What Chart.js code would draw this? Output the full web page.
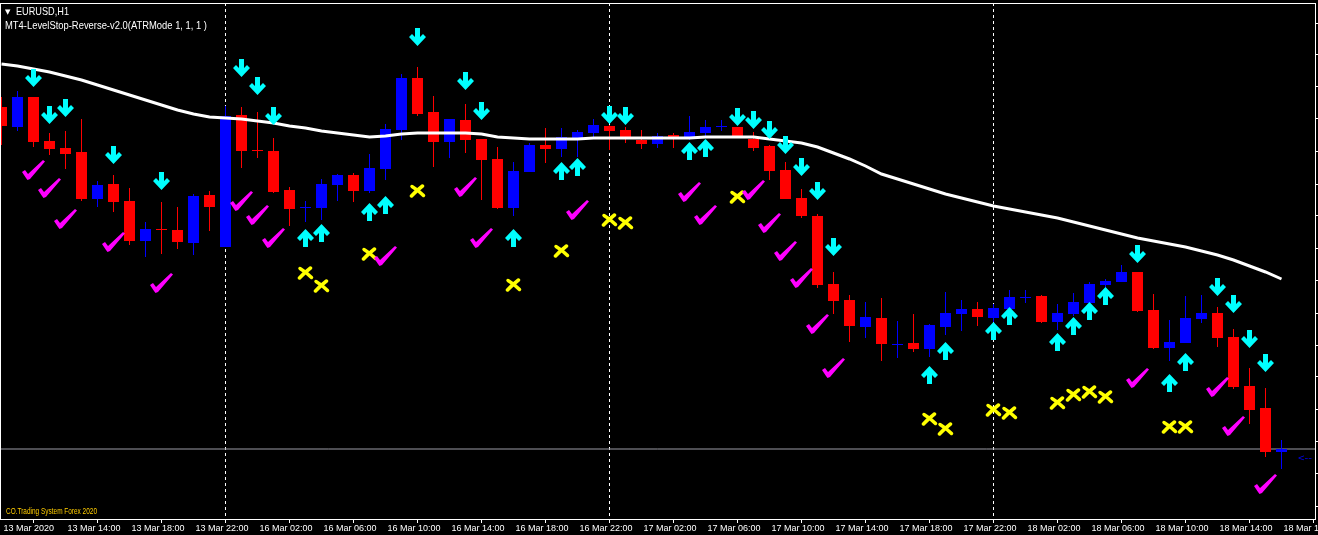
<!DOCTYPE html>
<html><head><meta charset="utf-8">
<script src="https://cdn.jsdelivr.net/npm/chart.js@4.4.1/dist/chart.umd.min.js"></script>
<style>html,body{margin:0;padding:0;background:#000;overflow:hidden}canvas{display:block}</style>
</head><body>
<canvas id="c" width="1318" height="535" style="width:1318px;height:535px"></canvas>
<script>
// ---- data (EURUSD H1, bar index 0 = 13 Mar 2020 10:00) ----
const opens = [1.1293,1.1273,1.1303,1.1259,1.1252,1.1248,1.1201,1.1216,1.1199,1.1159,
1.1171,1.1170,1.1157,1.1205,1.1153,1.1285,1.1250,1.1249,1.1210,1.1192,
1.1192,1.1215,1.1225,1.1209,1.1231,1.1270,1.1322,1.1288,1.1258,1.1280,
1.1261,1.1241,1.1192,1.1228,1.1255,1.1251,1.1262,1.1267,1.1274,1.1270,
1.1260,1.1256,1.1265,1.1263,1.1267,1.1273,1.1273,1.1261,1.1254,1.1230,
1.1202,1.1184,1.1116,1.1100,1.1073,1.1082,1.1055,1.1057,1.1051,1.1073,
1.1086,1.1091,1.1082,1.1091,1.1102,1.1104,1.1078,1.1086,1.1097,1.1115,
1.1118,1.1128,1.1090,1.1052,1.1057,1.1081,1.1087,1.1063,1.1014,1.0992,1.0948];
const highs = [1.1303,1.1309,1.1303,1.1267,1.1269,1.1281,1.1219,1.1225,1.1212,1.1178,
1.1198,1.1193,1.1206,1.1209,1.1294,1.1293,1.1288,1.1262,1.1213,1.1199,
1.1221,1.1226,1.1227,1.1246,1.1276,1.1326,1.1333,1.1304,1.1281,1.1296,
1.1261,1.1253,1.1238,1.1257,1.1272,1.1272,1.1270,1.1281,1.1275,1.1273,
1.1270,1.1267,1.1267,1.1284,1.1280,1.1280,1.1273,1.1268,1.1255,1.1238,
1.1211,1.1186,1.1128,1.1105,1.1098,1.1102,1.1079,1.1086,1.1076,1.1108,
1.1100,1.1098,1.1096,1.1110,1.1110,1.1105,1.1096,1.1107,1.1118,1.1121,
1.1135,1.1128,1.1106,1.1080,1.1104,1.1105,1.1093,1.1071,1.1032,1.1012,1.0960];
const lows = [1.1255,1.1269,1.1253,1.1245,1.1231,1.1199,1.1193,1.1188,1.1155,1.1143,
1.1146,1.1151,1.1145,1.1169,1.1153,1.1232,1.1242,1.1207,1.1174,1.1178,
1.1180,1.1199,1.1198,1.1207,1.1220,1.1260,1.1284,1.1233,1.1242,1.1247,
1.1200,1.1191,1.1184,1.1228,1.1237,1.1243,1.1243,1.1263,1.1250,1.1257,
1.1251,1.1252,1.1252,1.1260,1.1263,1.1269,1.1264,1.1249,1.1220,1.1201,
1.1182,1.1112,1.1086,1.1058,1.1062,1.1039,1.1042,1.1048,1.1043,1.1065,
1.1069,1.1074,1.1078,1.1088,1.1097,1.1077,1.1070,1.1084,1.1095,1.1110,
1.1118,1.1088,1.1051,1.1039,1.1057,1.1077,1.1053,1.1011,1.0976,1.0943,1.0931];
const closes = [1.1274,1.1303,1.1258,1.1251,1.1246,1.1201,1.1215,1.1198,1.1159,1.1171,
1.1170,1.1158,1.1204,1.1193,1.1284,1.1249,1.1249,1.1208,1.1191,1.1193,
1.1216,1.1225,1.1209,1.1232,1.1271,1.1322,1.1286,1.1258,1.1281,1.1260,
1.1240,1.1192,1.1229,1.1255,1.1251,1.1263,1.1268,1.1275,1.1269,1.1263,
1.1256,1.1264,1.1263,1.1268,1.1273,1.1274,1.1264,1.1252,1.1229,1.1201,
1.1184,1.1115,1.1099,1.1074,1.1083,1.1056,1.1056,1.1051,1.1075,1.1087,
1.1091,1.1083,1.1092,1.1103,1.1103,1.1078,1.1087,1.1098,1.1116,1.1119,
1.1128,1.1089,1.1052,1.1058,1.1082,1.1087,1.1062,1.1013,1.0990,1.0948,1.0951];
const maLine = [1.1336,1.1334,1.1331,1.1328,1.1324,1.1320,1.1315,1.1310,1.1305,1.1300,
1.1295,1.1290,1.1286,1.1283,1.1282,1.1281,1.1279,1.1277,1.1274,1.1272,
1.1269,1.1267,1.1265,1.1263,1.1264,1.1266,1.1267,1.1267,1.1267,1.1267,
1.1266,1.1263,1.1262,1.1261,1.1261,1.1261,1.1261,1.1262,1.1262,1.1262,
1.1262,1.1262,1.1262,1.1262,1.1263,1.1263,1.1263,1.1263,1.1261,1.1259,
1.1257,1.1253,1.1247,1.1241,1.1234,1.1226,1.1221,1.1216,1.1211,1.1206,
1.1202,1.1198,1.1194,1.1191,1.1188,1.1185,1.1182,1.1178,1.1174,1.1170,
1.1166,1.1162,1.1159,1.1156,1.1153,1.1149,1.1145,1.1140,1.1134,1.1128,1.1121];

const downIdx = [2,3,4,7,10,15,16,17,26,29,30,38,39,46,47,48,49,50,51,52,71,76,77,78,79];
const downPx  = [1.1322,1.1285,1.1292,1.1245,1.1219,1.1332,1.1314,1.1284,1.1363,1.1319,1.1289,1.1285,1.1284,1.1283,1.1280,1.1270,1.1255,1.1233,1.1209,1.1153,1.1146,1.1113,1.1096,1.1061,1.1037];
const upIdx = [19,20,23,24,32,35,36,43,44,58,59,62,63,66,67,68,69,73,74];
const upPx  = [1.1162,1.1167,1.1188,1.1195,1.1162,1.1229,1.1233,1.1249,1.1252,1.1025,1.1049,1.1069,1.1084,1.1058,1.1074,1.1089,1.1104,1.1017,1.1038];
const checkIdx = [2,3,4,7,10,15,16,17,24,29,30,36,43,44,47,48,49,50,51,52,71,76,77,79];
const checkPx  = [1.1230,1.1212,1.1181,1.1158,1.1117,1.1199,1.1185,1.1162,1.1144,1.1213,1.1162,1.1190,1.1208,1.1185,1.1210,1.1177,1.1149,1.1122,1.1076,1.1032,1.1022,1.1013,1.0974,1.0916];
const crossIdx = [19,20,23,26,32,35,38,39,46,58,59,62,63,66,67,68,69,73,74];
const crossPx  = [1.1127,1.1114,1.1146,1.1209,1.1115,1.1149,1.1180,1.1177,1.1203,1.0981,1.0971,1.0990,1.0987,1.0997,1.1005,1.1008,1.1003,1.0973,1.0973];

const bidPrice = 1.0951;
const daySeparators = [14, 38, 62];
const xTickIdx = [0,4,8,12,16,20,24,28,32,36,40,44,48,52,56,60,64,68,72,76,80];
const xTickLabels = ["13 Mar 2020","13 Mar 14:00","13 Mar 18:00","13 Mar 22:00","16 Mar 02:00","16 Mar 06:00","16 Mar 10:00","16 Mar 14:00","16 Mar 18:00","16 Mar 22:00","17 Mar 02:00","17 Mar 06:00","17 Mar 10:00","17 Mar 14:00","17 Mar 18:00","17 Mar 22:00","18 Mar 02:00","18 Mar 06:00","18 Mar 10:00","18 Mar 14:00","18 Mar 18:00"];
const yTickValues = [1.1377,1.1345,1.1313,1.1281,1.1248,1.1216,1.1184,1.1152,1.1119,1.1087,1.1055,1.1023,1.0991,1.0958,1.0927,1.0894];

// ---- view ----
const X_MIN = -0.09375, X_MAX = 82.09375;
const Y_MIN = 1.0881, Y_MAX = 1.1397;
const FONT = '"Liberation Sans", Arial, sans-serif';
const RED = '#ff0000', BLUE = '#0000ff';

function makeImg(w, h, draw) {
  const c = document.createElement('canvas'); c.width = w; c.height = h;
  draw(c.getContext('2d')); return c;
}
function poly(g, pts) { g.beginPath(); pts.forEach((p,i)=> i? g.lineTo(p[0],p[1]) : g.moveTo(p[0],p[1])); g.closePath(); g.fill(); }
const arrowDown = makeImg(17, 18, g => { g.fillStyle = '#00ffff';
  poly(g, [[6,0],[11,0],[11,9],[14,6],[17,9],[8.5,18],[0,9],[3,6],[6,9]]); });
const arrowUp = makeImg(17, 18, g => { g.fillStyle = '#00ffff';
  poly(g, [[6,18],[11,18],[11,9],[14,12],[17,9],[8.5,0],[0,9],[3,12],[6,9]]); });
const checkImg = makeImg(23, 20, g => { g.fillStyle = '#ff00ff';
  poly(g, [[0,12],[3,10],[6,14],[21,0],[23,1.5],[8,19],[5.5,20],[4,18]]); });
const crossImg = makeImg(17, 14, g => {
  g.strokeStyle = '#ffff00'; g.lineWidth = 3.5; g.lineCap = 'round';
  g.beginPath(); g.moveTo(3,2.5); g.quadraticCurveTo(9,6,14.5,11.5); g.stroke();
  g.beginPath(); g.moveTo(13.5,2); g.quadraticCurveTo(7,7,2.5,12); g.stroke();
});

const candleColors = opens.map((o,i)=> closes[i] >= o ? BLUE : RED);
const pts = (idx, px) => idx.map((x,i)=>({x, y: px[i]}));

const datasets = [
  { type:'line', label:'bid', data:[{x:X_MIN,y:bidPrice},{x:X_MAX,y:bidPrice}], borderColor:'#9c9ca6', borderWidth:1, pointRadius:0, order:8 },
  ...daySeparators.map(s => ({ type:'line', label:'sep', data:[{x:s,y:Y_MAX},{x:s,y:Y_MIN}], borderColor:'#ffffff', borderWidth:1, borderDash:[3,3], pointRadius:0, order:9 })),
  { type:'bar', label:'wick', data: highs.map((h,i)=>({x:i, y:[lows[i], h]})), backgroundColor:candleColors, barThickness:1, grouped:false, inflateAmount:0, borderWidth:0, order:6 },
  { type:'bar', label:'body', data: opens.map((o,i)=>({x:i, y:[o, closes[i]]})), backgroundColor:candleColors, barThickness:11, grouped:false, inflateAmount:0, borderWidth:0, minBarLength:1, order:5 },
  { type:'line', label:'MA', data: maLine.map((v,i)=>({x:i,y:v})), borderColor:'#ffffff', borderWidth:3, pointRadius:0, tension:0, order:4 },
  { type:'line', label:'down', data: pts(downIdx, downPx), showLine:false, pointStyle:arrowDown, order:1 },
  { type:'line', label:'up', data: pts(upIdx, upPx), showLine:false, pointStyle:arrowUp, order:1 },
  { type:'line', label:'check', data: pts(checkIdx, checkPx), showLine:false, pointStyle:checkImg, order:2 },
  { type:'line', label:'cross', data: pts(crossIdx, crossPx), showLine:false, pointStyle:crossImg, order:2 },
];

function fitText(c, txt, x, y, w) {
  const m = c.measureText(txt).width;
  c.save(); c.translate(x, y); c.scale(w / m, 1); c.fillText(txt, 0, 0); c.restore();
}

const overlay = {
  id:'overlay',
  beforeDraw(chart){
    const c = chart.ctx; c.save(); c.fillStyle = '#000'; c.fillRect(0,0,chart.width,chart.height); c.restore();
  },
  afterDraw(chart){
    const c = chart.ctx, a = chart.chartArea;
    c.save();
    c.strokeStyle = '#ffffff'; c.lineWidth = 1;
    c.strokeRect(a.left + 0.5, a.top + 0.5, a.right - a.left, a.bottom - a.top);
    c.fillStyle = '#ffffff'; c.textBaseline = 'alphabetic';
    c.font = '7px "DejaVu Sans"'; c.fillText('\u25BC', 5, 14);
    c.font = '11px ' + FONT;
    fitText(c, 'EURUSD,H1', 16, 15, 53);
    fitText(c, 'MT4-LevelStop-Reverse-v2.0(ATRMode 1, 1, 1 )', 5, 29, 202);
    c.fillStyle = '#ffcc00'; c.font = '9px ' + FONT;
    fitText(c, 'CO.Trading System Forex 2020', 6, 514, 91);
    c.fillStyle = '#0000ff'; c.font = '9px ' + FONT;
    fitText(c, '<--', 1298, 461, 14);
    c.restore();
  }
};

new Chart(document.getElementById('c'), {
  type:'bar',
  data:{ datasets },
  plugins:[overlay],
  options:{
    responsive:false, animation:false, maintainAspectRatio:false,
    layout:{ autoPadding:false, padding:{ left:0, right:0, top:3, bottom:0 } },
    plugins:{ legend:{display:false}, tooltip:{enabled:false} },
    scales:{
      x:{ type:'linear', min:X_MIN, max:X_MAX, offset:false,
          afterBuildTicks: s => { s.ticks = xTickIdx.map(v=>({value:v})); },
          afterFit: s => { s.height = 16; s.paddingLeft = 0; s.paddingRight = 0; s.paddingTop = 0; s.paddingBottom = 0; },
          grid:{ display:true, drawOnChartArea:false, drawTicks:true, tickLength:4, color:'#ffffff' },
          border:{ display:false },
          ticks:{ autoSkip:false, maxRotation:0, align:'start', labelOffset:2, padding:0, color:'#ffffff',
                  font:{ family:FONT, size:9 },
                  callback: v => xTickLabels[xTickIdx.indexOf(v)] } },
      y:{ position:'right', min:Y_MIN, max:Y_MAX,
          afterBuildTicks: s => { s.ticks = yTickValues.map(v=>({value:v})); },
          afterFit: s => { s.width = 3; s.paddingTop = 0; s.paddingBottom = 0; s.paddingLeft = 0; s.paddingRight = 0; },
          grid:{ display:true, drawOnChartArea:false, drawTicks:true, tickLength:3, color:'#ffffff' },
          border:{ display:false },
          ticks:{ display:false } }
    }
  }
});
</script>
</body></html>
